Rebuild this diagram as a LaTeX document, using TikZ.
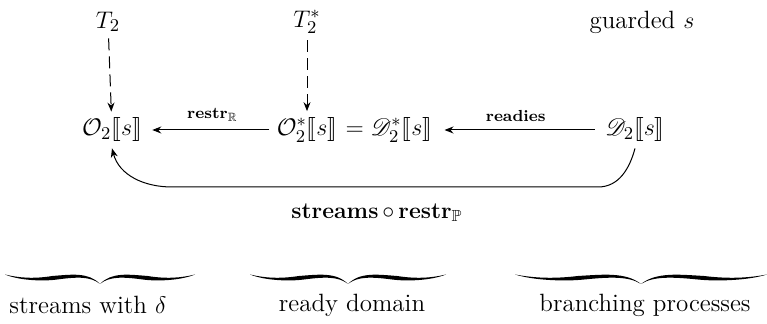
\documentclass[tikz,border=0pt]{standalone}
\usepackage{amsmath,amssymb}
\usepackage{stmaryrd}
\usepackage{mathrsfs}
\usetikzlibrary{arrows.meta,positioning}
\tikzset{
     txt node/.style={font=\fontsize{12.5}{15}\selectfont, inner sep=3pt},
     arr node/.style={font=\fontsize{8}{9}\selectfont\bfseries, inner sep=1pt},
      mapedge/.style   = {black, line width=0.5pt, -{Stealth[length=4.5pt,width=3.5pt]}},
      typedge/.style = {black, line width=0.5pt, dash pattern=on 6pt off 3pt, -{Stealth[length=4.5pt,width=3.5pt]}},
      pics/wbrace/.style={code={
        \fill (-#1,-4.5) .. controls (-0.85*#1,-1) and (-0.7*#1,0) .. (-0.5*#1,-3)
           .. controls (-0.3*#1,-4.5) and (-0.12*#1,-7) .. (0,5)
           .. controls (-0.1*#1,-3) and (-0.25*#1,-2) .. (-0.45*#1,0.5)
           .. controls (-0.6*#1,2.5) and (-0.85*#1,1.5) .. (-#1,-4.5) -- cycle;
        \fill (#1,-4.5) .. controls (0.85*#1,-1) and (0.7*#1,0) .. (0.5*#1,-3)
           .. controls (0.3*#1,-4.5) and (0.12*#1,-7) .. (0,5)
           .. controls (0.1*#1,-3) and (0.25*#1,-2) .. (0.45*#1,0.5)
           .. controls (0.6*#1,2.5) and (0.85*#1,1.5) .. (#1,-4.5) -- cycle;
      }},
    }

\begin{document}
\begin{tikzpicture}[x=0.5pt,y=-0.5pt]
        \useasboundingbox (0,0) rectangle (767,324);
        \node [txt node] (t2)  at (108,22)  {$T_2$};
        \node [txt node] (t2s) at (307,22)  {$T_2^*$};
        \node [txt node] (grd) at (642,22)  {guarded $s$};
        \node [txt node] (o2)  at (112,130) {$\mathcal{O}_2\llbracket s\rrbracket$};
        \node [txt node, inner xsep=0pt] (o2s) at (307,130) {$\mathcal{O}_2^*\llbracket s\rrbracket$};
        \node [txt node, anchor=base west, inner xsep=0pt] (d2s) at ([xshift=0.5pt]o2s.base east) {${}={}\mathscr{D}_2^*\llbracket s\rrbracket$};
        \node [txt node] (d2)  at (635,130) {$\mathscr{D}_2\llbracket s\rrbracket$};
        \coordinate (br) at (598,187);
        \coordinate (bl) at (172,187);
        \draw [typedge] (t2) -- (o2);
        \draw [typedge] (t2s) -- (o2s);
        \draw [mapedge, shorten <=3.5pt, shorten >=2pt] (o2s) -- node[arr node, above=3pt] {restr$_{\mathbb{R}}$} (o2);
        \draw [mapedge, shorten <=2pt, shorten >=6pt] (d2) -- node[arr node, above=3pt] {readies} (d2s);
        \draw [mapedge] (d2.south) to[out=-105,in=0] (br)
              -- node[txt node, below=5pt, xshift=-4pt, font=\fontsize{11.5}{14}\selectfont] {\textbf{streams}$\,\circ\,$\textbf{restr}$_{\mathbb{P}}$} (bl)
              to[out=180,in=-75] (o2.south);
        \pic at (100,279) {wbrace=95};
        \pic at (348,279) {wbrace=98};
        \pic at (641,279) {wbrace=126};
        \node [txt node] (sdel) at (88,305)  {streams with $\delta$};
        \node [txt node] (rdom) at (352,305) {ready domain};
        \node [txt node] (bpro) at (645,305) {branching processes};
    \end{tikzpicture}
\end{document}
